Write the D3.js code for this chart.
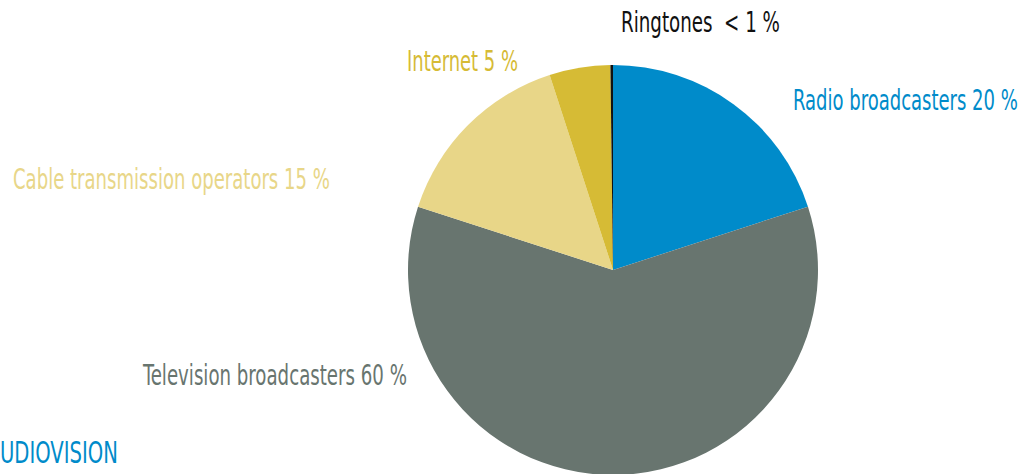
<!DOCTYPE html>
<html><head><meta charset="utf-8">
<script src="https://cdn.jsdelivr.net/npm/d3@7"></script>
<style>html,body{margin:0;padding:0;background:#fff;overflow:hidden}</style>
</head><body>
<svg id="c" width="1027" height="474"></svg>
<script>
// Data
const categories = ["Radio broadcasters", "Television broadcasters", "Cable transmission operators", "Internet", "Ringtones"];
const shares = [20, 60, 15, 4.8, 0.2];
const shareLabels = ["20 %", "60 %", "15 %", "5 %", "< 1 %"];
const colors = ["#008bca", "#68756f", "#e8d688", "#d6bb35", "#111111"];
const footerText = "UDIOVISION";

// Layout (label anchors and widths)
const labelLayout = [
  {x: 793, y: 110, w: 225, color: "#008bca", sep: " "},
  {x: 143, y: 385, w: 264, color: "#68756f", sep: " "},
  {x: 13,  y: 189, w: 317, color: "#e8d688", sep: " "},
  {x: 407, y: 71,  w: 111, color: "#d6bb35", sep: " "},
  {x: 621, y: 32,  w: 159, color: "#111111", sep: "  "}
];

const svg = d3.select("#c");
const cx = 613, cy = 270, R = 205;
const pie = d3.pie().sort(null).value(d => d)(shares);
const arc = d3.arc().innerRadius(0).outerRadius(R);

svg.append("g").attr("transform", `translate(${cx},${cy})`)
  .selectAll("path").data(pie).join("path")
  .attr("d", arc).attr("fill", (d, i) => colors[i]);

const font = "'Liberation Sans Narrow','DejaVu Sans Condensed',sans-serif";
function fitText(sel, x, y, w) {
  const len = sel.node().getComputedTextLength();
  sel.attr("transform", `translate(${x},${y}) scale(${w / len},1)`);
}
const g = svg.append("g");
categories.forEach((c, i) => {
  const L = labelLayout[i];
  const t = g.append("text")
    .attr("fill", L.color)
    .style("font-family", font).style("font-size", "29px")
    .style("white-space", "pre")
    .text(c + L.sep + shareLabels[i]);
  fitText(t, L.x, L.y, L.w);
});

const f = svg.append("text").attr("fill", "#008bca")
  .style("font-family", font).style("font-size", "30px")
  .text(footerText);
fitText(f, 0, 463, 118);
</script>
</body></html>
